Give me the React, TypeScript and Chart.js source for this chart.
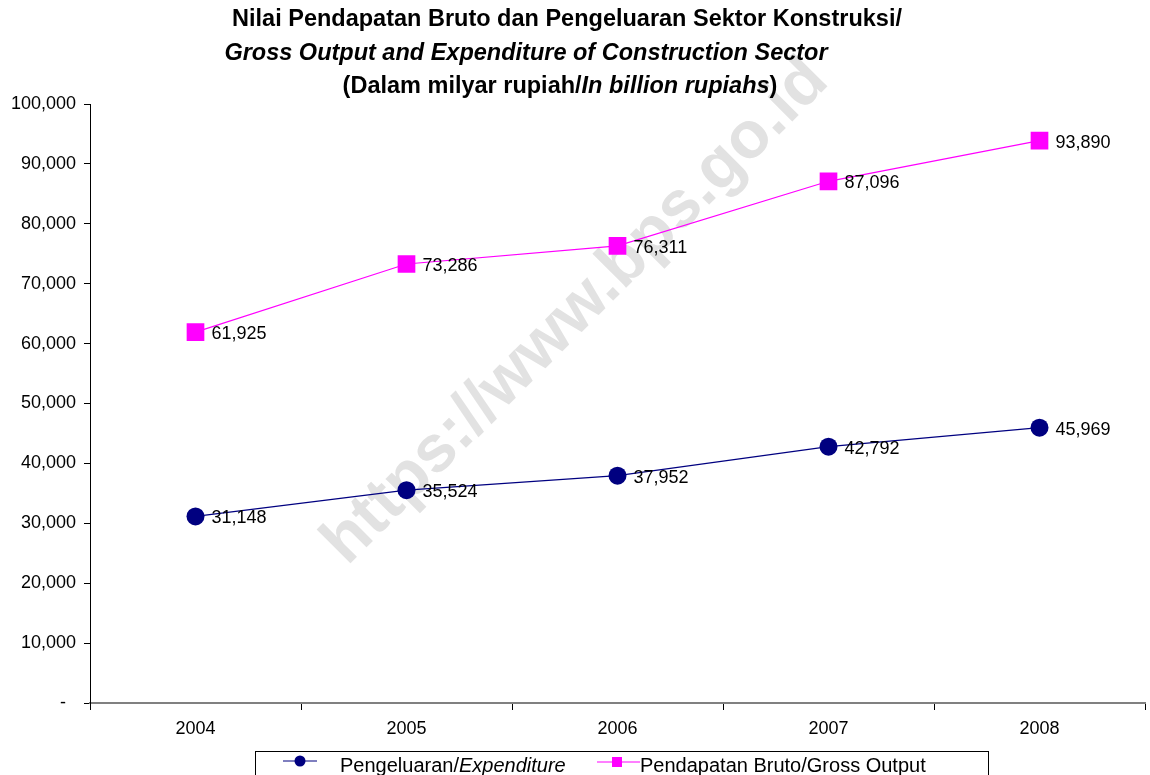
import React, { useEffect, useRef } from 'react';
import { Chart, registerables } from 'chart.js';

Chart.register(...registerables);

// ---- data ----
const years = ['2004', '2005', '2006', '2007', '2008'];
const expenditure = [31148, 35524, 37952, 42792, 45969];
const grossOutput = [61925, 73286, 76311, 87096, 93890];
const yMin = 0;
const yMax = 100000;
const yStep = 10000;

// ---- text ----
const titleLine1: [string, boolean][] = [['Nilai Pendapatan Bruto dan Pengeluaran Sektor Konstruksi/', false]];
const titleLine2: [string, boolean][] = [['Gross Output and Expenditure of Construction Sector', true]];
const titleLine3: [string, boolean][] = [
  ['(Dalam milyar rupiah/', false],
  ['In billion rupiahs', true],
  [')', false],
];
const legendExpenditure: [string, boolean][] = [['Pengeluaran/', false], ['Expenditure', true]];
const legendGross: [string, boolean][] = [['Pendapatan Bruto/Gross Output', false]];
const watermarkText = 'https://www.bps.go.id';

const FONT = '"Liberation Sans", Arial, sans-serif';
const BLUE = '#000080';
const PINK = '#FF00FF';

function fmt(v: number): string {
  return v.toLocaleString('en-US');
}

function drawParts(ctx: CanvasRenderingContext2D, parts: [string, boolean][], x: number, y: number, size: number, bold: boolean, align: 'left' | 'center') {
  const fontFor = (it: boolean) => `${it ? 'italic ' : ''}${bold ? 'bold ' : ''}${size}px ${FONT}`;
  let total = 0;
  for (const [t, it] of parts) {
    ctx.font = fontFor(it);
    total += ctx.measureText(t).width;
  }
  let cx = align === 'center' ? x - total / 2 : x;
  ctx.textAlign = 'left';
  ctx.textBaseline = 'middle';
  for (const [t, it] of parts) {
    ctx.font = fontFor(it);
    ctx.fillText(t, cx, y);
    cx += ctx.measureText(t).width;
  }
}

const overlayPlugin = {
  id: 'overlay',
  beforeDraw(chart: any) {
    const ctx: CanvasRenderingContext2D = chart.ctx;
    ctx.save();
    ctx.translate(576, 312);
    ctx.rotate(-Math.PI / 4);
    ctx.font = `bold 66px ${FONT}`;
    ctx.fillStyle = '#e2e2e2';
    ctx.textAlign = 'center';
    ctx.textBaseline = 'middle';
    ctx.fillText(watermarkText, 0, 0);
    ctx.restore();
  },
  afterDatasetsDraw(chart: any) {
    const ctx: CanvasRenderingContext2D = chart.ctx;
    ctx.save();
    ctx.font = `18px ${FONT}`;
    ctx.fillStyle = '#000';
    ctx.textAlign = 'left';
    ctx.textBaseline = 'middle';
    chart.data.datasets.forEach((ds: any, i: number) => {
      const meta = chart.getDatasetMeta(i);
      meta.data.forEach((el: any, j: number) => {
        ctx.fillText(fmt(ds.data[j]), el.x + 16, el.y + 2);
      });
    });
    ctx.restore();
  },
  afterDraw(chart: any) {
    const ctx: CanvasRenderingContext2D = chart.ctx;
    ctx.save();
    ctx.fillStyle = '#000';
    drawParts(ctx, titleLine1, 567, 20, 23.5, true, 'center');
    drawParts(ctx, titleLine2, 526, 54, 23.5, true, 'center');
    drawParts(ctx, titleLine3, 560, 87, 23.5, true, 'center');

    // legend box
    ctx.strokeStyle = '#000';
    ctx.lineWidth = 1;
    ctx.strokeRect(255.5, 751.5, 733, 40);
    // expenditure sample
    ctx.strokeStyle = BLUE;
    ctx.lineWidth = 1.2;
    ctx.beginPath();
    ctx.moveTo(283, 761);
    ctx.lineTo(317, 761);
    ctx.stroke();
    ctx.fillStyle = BLUE;
    ctx.beginPath();
    ctx.arc(300, 761, 5.5, 0, Math.PI * 2);
    ctx.fill();
    ctx.fillStyle = '#000';
    drawParts(ctx, legendExpenditure, 340, 766, 20, false, 'left');
    // gross sample
    ctx.strokeStyle = PINK;
    ctx.beginPath();
    ctx.moveTo(597, 762);
    ctx.lineTo(640, 762);
    ctx.stroke();
    ctx.fillStyle = PINK;
    ctx.fillRect(612, 757, 10, 10);
    ctx.fillStyle = '#000';
    drawParts(ctx, legendGross, 640, 766, 20, false, 'left');
    ctx.restore();
  },
};

export default function App() {
  const ref = useRef<HTMLCanvasElement | null>(null);
  useEffect(() => {
    if (!ref.current) return;
    const chart = new Chart(ref.current, {
      type: 'line',
      data: {
        labels: years,
        datasets: [
          {
            label: 'Pengeluaran/Expenditure',
            data: expenditure,
            borderColor: BLUE,
            backgroundColor: BLUE,
            borderWidth: 1.2,
            pointStyle: 'circle',
            pointRadius: 9,
            pointBackgroundColor: BLUE,
            pointBorderColor: BLUE,
            pointBorderWidth: 0,
            tension: 0,
          },
          {
            label: 'Pendapatan Bruto/Gross Output',
            data: grossOutput,
            borderColor: PINK,
            backgroundColor: PINK,
            borderWidth: 1.2,
            pointStyle: 'rect',
            pointRadius: 12.5,
            pointBackgroundColor: PINK,
            pointBorderColor: PINK,
            pointBorderWidth: 0,
            tension: 0,
          },
        ],
      },
      options: {
        responsive: false,
        animation: false,
        layout: { autoPadding: false, padding: { top: 104, left: 0, right: 5, bottom: 40 } },
        plugins: {
          legend: { display: false },
          title: { display: false },
          tooltip: { enabled: false },
        },
        scales: {
          x: {
            type: 'category',
            offset: true,
            afterFit: (s: any) => { s.height = 32; },
            grid: {
              offset: true,
              drawOnChartArea: false,
              drawTicks: true,
              tickLength: 7,
              color: '#000',
            },
            border: { display: true, color: '#808080', width: 2 },
            ticks: {
              color: '#000',
              font: { family: FONT, size: 18 },
              padding: 8,
              maxRotation: 0,
            },
          },
          y: {
            min: yMin,
            max: yMax,
            afterFit: (s: any) => { s.width = 90; },
            grid: {
              drawOnChartArea: false,
              drawTicks: true,
              tickLength: 6,
              color: '#000',
            },
            border: { display: true, color: '#000', width: 1 },
            ticks: {
              stepSize: yStep,
              color: '#000',
              font: { family: FONT, size: 18 },
              padding: 8,
              callback: (v: any) => (Number(v) === 0 ? '-  ' : fmt(Number(v))),
            },
          },
        },
      },
      plugins: [overlayPlugin],
    });
    return () => chart.destroy();
  }, []);
  return (
    <div style={{ position: 'absolute', left: 0, top: 0, width: 1150, height: 775, background: '#fff' }}>
      <canvas ref={ref} width={1150} height={775} />
    </div>
  );
}
